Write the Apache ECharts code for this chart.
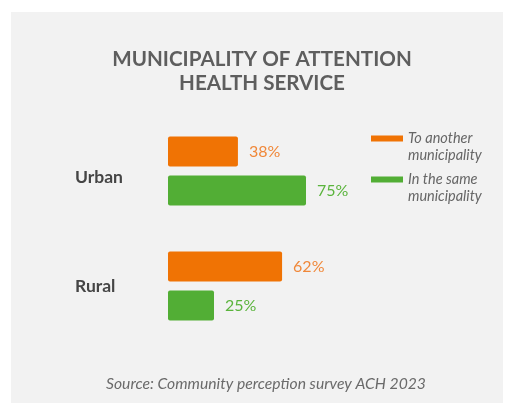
<!DOCTYPE html>
<html>
<head>
<meta charset="utf-8">
<script src="https://cdn.jsdelivr.net/npm/echarts@6/dist/echarts.min.js"></script>
<style>
  html, body { margin: 0; padding: 0; background: #ffffff; }
  #chart { width: 505px; height: 403px; }
</style>
</head>
<body>
<div id="chart"></div>
<script>
// Areas surveyed
const categories = ['Urban', 'Rural'];
// Share of respondents (%) by municipality of health service attention
const anotherMunicipality = [38, 62];
const sameMunicipality = [75, 25];
const seriesNames = ['To another\nmunicipality', 'In the same\nmunicipality'];

const ORANGE = '#f07304';
const GREEN = '#52ae35';
const FONT = 'Lato, "Open Sans", sans-serif';

const chart = echarts.init(document.getElementById('chart'), null, { renderer: 'canvas' });

function barSeries(name, data, color, labelColor) {
  return {
    name: name,
    type: 'bar',
    data: data,
    barWidth: 30,
    barGap: '30%',
    itemStyle: { color: color, borderRadius: 2 },
    label: {
      show: true,
      position: 'right',
      distance: 11,
      formatter: '{c}%',
      color: labelColor,
      fontFamily: FONT,
      fontSize: 16
    },
    silent: true
  };
}

chart.setOption({
  backgroundColor: '#ffffff',
  animation: false,
  graphic: [{
    type: 'rect',
    shape: { x: 11, y: 12, width: 492, height: 391 },
    style: { fill: '#f2f2f2' },
    z: -10
  }],
  title: [{
    text: 'MUNICIPALITY OF ATTENTION\nHEALTH SERVICE',
    left: 262,
    top: 47,
    padding: 0,
    textAlign: 'center',
    textStyle: {
      fontFamily: FONT,
      fontSize: 20.6,
      fontWeight: 'bold',
      color: '#5e5e5e',
      lineHeight: 24
    }
  }, {
    text: 'Source: Community perception survey ACH 2023',
    left: 266,
    top: 376,
    padding: 0,
    textAlign: 'center',
    textStyle: {
      fontFamily: FONT,
      fontSize: 15.7,
      fontStyle: 'italic',
      fontWeight: 'normal',
      color: '#6a6a6a'
    }
  }],
  legend: {
    orient: 'vertical',
    left: 371,
    top: 113,
    padding: 0,
    itemWidth: 32,
    itemHeight: 6,
    itemGap: -10,
    icon: 'rect',
    selectedMode: false,
    data: seriesNames,
    // leading blank line lines the swatch up with the first text line
    formatter: function (name) { return '\n' + name; },
    textStyle: {
      fontFamily: FONT,
      fontSize: 14.5,
      fontStyle: 'italic',
      color: '#666666',
      lineHeight: 17
    }
  },
  grid: {
    left: 168,
    width: 184,
    top: 113.5,
    height: 230,
    containLabel: false
  },
  xAxis: {
    type: 'value',
    min: 0,
    max: 100,
    show: false
  },
  yAxis: {
    type: 'category',
    data: categories,
    inverse: true,
    axisLine: { show: false },
    axisTick: { show: false },
    axisLabel: {
      align: 'left',
      margin: 93,
      formatter: function (value, index) {
        return index === 0 ? '{low|' + value + '}' : '{n|' + value + '}';
      },
      rich: {
        low: {
          fontFamily: FONT, fontSize: 17.5, fontWeight: 'bold', color: '#454545',
          padding: [12, 0, 0, 0]
        },
        n: {
          fontFamily: FONT, fontSize: 17.5, fontWeight: 'bold', color: '#454545'
        }
      }
    }
  },
  series: [
    barSeries(seriesNames[0], anotherMunicipality, ORANGE, '#f0883a'),
    barSeries(seriesNames[1], sameMunicipality, GREEN, '#5ab43c')
  ]
});
</script>
</body>
</html>
